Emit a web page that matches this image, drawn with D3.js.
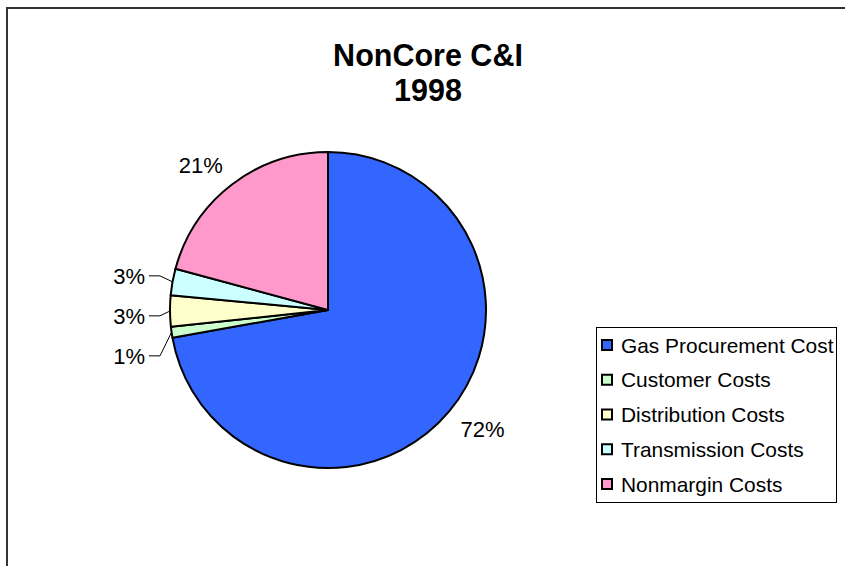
<!DOCTYPE html>
<html>
<head>
<meta charset="utf-8">
<script src="https://cdn.jsdelivr.net/npm/d3@7"></script>
<style>
  body { margin: 0; background: #fff; }
  svg { display: block; font-family: Arial, "Liberation Sans", sans-serif; }
</style>
</head>
<body>
<div id="container"></div>
<script>
// Data.
const categories = ['Gas Procurement Cost', 'Customer Costs', 'Distribution Costs', 'Transmission Costs', 'Nonmargin Costs'];
const values = [72.2, 1.1, 3.2, 2.7, 20.8];
const colours = ['#3366FF', '#CCFFCC', '#FFFFCC', '#CCFFFF', '#FF99CC'];
const titleLines = ['NonCore C&I', '1998'];

const width = 845, height = 566;
const cx = 328, cy = 310, radius = 158;

const svg = d3.select('#container')
  .append('svg')
  .attr('width', width)
  .attr('height', height);

// Outer frame (runs off the right and bottom of the picture).
svg.append('rect')
  .attr('x', 7)
  .attr('y', 8)
  .attr('width', width + 10)
  .attr('height', height + 10)
  .attr('fill', 'none')
  .attr('stroke', '#333')
  .attr('stroke-width', 2);

// Title.
svg.append('text')
  .attr('x', 428)
  .attr('y', 66)
  .attr('text-anchor', 'middle')
  .attr('font-size', 30.5)
  .attr('font-weight', 'bold')
  .selectAll('tspan')
  .data(titleLines)
  .join('tspan')
  .attr('x', 428)
  .attr('dy', (d, i) => i ? 34.5 : 0)
  .text(d => d);

// Pie.
const data = categories.map((c, i) => ({ name: c, value: values[i], colour: colours[i] }));
const total = d3.sum(values);
const pie = d3.pie().sort(null).value(d => d.value);
const arcs = pie(data);
const arc = d3.arc().innerRadius(0).outerRadius(radius);
const labelArc = d3.arc().innerRadius(173).outerRadius(173);
const edgeArc = d3.arc().innerRadius(radius).outerRadius(radius);

const g = svg.append('g').attr('transform', `translate(${cx} ${cy})`);

g.selectAll('.slice')
  .data(arcs)
  .join('path')
  .attr('class', 'slice')
  .attr('d', arc)
  .attr('fill', d => d.data.colour)
  .attr('stroke', '#000')
  .attr('stroke-width', 2)
  .attr('stroke-linejoin', 'round');

const pct = d => `${Math.round(d.data.value / total * 100)}%`;
const isSmall = d => d.data.value / total < 0.05;
const midAngle = d => (d.startAngle + d.endAngle) / 2;

// Labels for the big slices: the nearest corner of the text box sits on labelArc.
g.selectAll('.big-label')
  .data(arcs.filter(d => !isSmall(d)))
  .join('text')
  .attr('class', 'big-label')
  .attr('transform', d => `translate(${labelArc.centroid(d)})`)
  .attr('text-anchor', d => Math.sin(midAngle(d)) < 0 ? 'end' : 'start')
  .attr('dy', d => Math.cos(midAngle(d)) > 0 ? 0 : '0.72em')
  .attr('font-size', 22)
  .text(pct);

// Small slices: labels stacked to the left with leader lines.
const small = arcs.filter(isSmall)
  .map(d => ({ d, edge: edgeArc.centroid(d) }))
  .sort((a, b) => a.edge[1] - b.edge[1]);
const labelGap = 40, labelLift = 6;
small.forEach((s, i) => {
  s.y = i === 0 ? s.edge[1] - labelLift : Math.max(s.edge[1], small[i - 1].y + labelGap);
});

const textRight = -radius - 25;
g.selectAll('.leader')
  .data(small)
  .join('polyline')
  .attr('class', 'leader')
  .attr('points', s => [[textRight + 4, s.y], [textRight + 15, s.y], s.edge].map(p => p.join(',')).join(' '))
  .attr('fill', 'none')
  .attr('stroke', '#000')
  .attr('stroke-width', 1);

g.selectAll('.small-label')
  .data(small)
  .join('text')
  .attr('class', 'small-label')
  .attr('x', textRight)
  .attr('y', s => s.y)
  .attr('dy', '0.35em')
  .attr('text-anchor', 'end')
  .attr('font-size', 22)
  .text(s => pct(s.d));

// Legend.
const legend = svg.append('g').attr('transform', 'translate(596 327)');
legend.append('rect')
  .attr('x', 0.5)
  .attr('y', 0.5)
  .attr('width', 240)
  .attr('height', 175)
  .attr('fill', '#fff')
  .attr('stroke', '#000')
  .attr('stroke-width', 1);

const rowY = d3.scalePoint().domain(categories).range([18, 157]);

const keys = legend.selectAll('.legend__key')
  .data(data)
  .join('g')
  .attr('class', 'legend__key')
  .attr('transform', d => `translate(0 ${rowY(d.name)})`);

keys.append('rect')
  .attr('x', 6)
  .attr('y', -5)
  .attr('width', 10)
  .attr('height', 10)
  .attr('fill', d => d.colour)
  .attr('stroke', '#000')
  .attr('stroke-width', 2);

keys.append('text')
  .attr('x', 25)
  .attr('dy', '0.36em')
  .attr('font-size', 20.9)
  .text(d => d.name);
</script>
</body>
</html>
